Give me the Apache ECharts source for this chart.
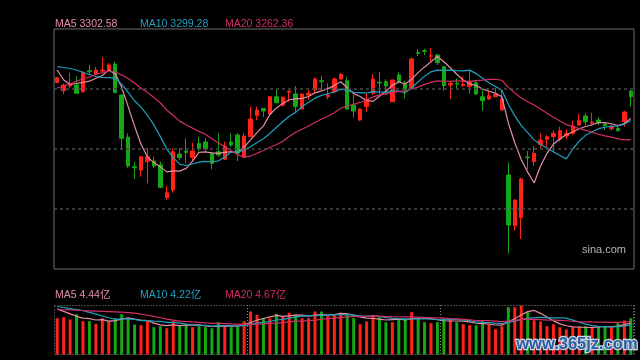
<!DOCTYPE html>
<html><head><meta charset="utf-8">
<script src="https://cdn.jsdelivr.net/npm/echarts@6/dist/echarts.min.js"></script>
<style>html,body{margin:0;padding:0;background:#000}#c{width:640px;height:360px}</style>
</head><body><div id="c"></div>
<script>
const categories = Array.from({length: 90}, (_, i) => String(i + 1));

const opens = [3372.6,3356.6,3366,3368,3354.6,3396.6,3389.4,3396,3399.4,3410,
3348,3263.4,3204.6,3198,3214.6,3216,3208,3142.6,3158,3230,
3236,3223.4,3251.4,3254,3231.4,3234.6,3219.4,3254,3268,3223.4,
3264.6,3306.6,3321.4,3310,3344.6,3328,3354,3350,3320,3348,
3358,3376.6,3344.6,3354.6,3380,3376.6,3328,3298,3324.6,3351.4,
3373.4,3374.6,3334.6,3388,3371.4,3361.4,3432.6,3436.6,3425.4,3428,
3404.6,3368,3371.4,3366.6,3364.6,3372.6,3344.6,3340,3344.6,3318,
3188,3086.6,3102.6,3224,3214.6,3249.4,3259.4,3264.6,3259.4,3266,
3271.4,3288,3306,3292,3298,3290,3280.6,3281.4,3294.6,3356];

const closes = [3382.6,3368,3371.4,3351.4,3392.6,3394.6,3398,3398,3408,3352.6,
3261.4,3206,3202.6,3224.6,3224.6,3206,3163.4,3152.6,3234.6,3222.6,
3233.4,3236,3240,3240,3211.4,3228,3246,3248,3231.4,3266,
3300,3318,3316,3344.6,3332.6,3343.4,3356,3324.6,3350,3351.4,
3380,3374.6,3348,3380,3389.4,3320,3316,3320,3340,3380,
3372,3366,3378,3374.6,3359.4,3420,3431.4,3435.4,3426.6,3412.6,
3366.6,3371.4,3370,3369.4,3374.6,3350,3336.6,3346.6,3349.4,3340,
3088,3138,3180,3222.6,3231.4,3258,3264.6,3271.4,3276.6,3271.4,
3286,3296.6,3294.6,3294,3292.6,3286.6,3284.6,3276.6,3314,3344.6];

const lows = [3372,3350,3362,3350,3353,3388,3388,3391.4,3398,3352,
3238,3201.4,3180,3184.6,3171.4,3201.4,3162,3138,3152.6,3218,
3211.4,3214.6,3236,3234.6,3199.4,3224.6,3218,3244.6,3216,3222,
3264,3298,3304,3308,3332,3324.6,3334.6,3314.6,3319,3338,
3351.4,3358,3339.4,3351.4,3379,3319,3302.6,3296,3314.6,3348,
3348,3348,3334,3371.4,3341.4,3360,3426,3428,3414.6,3408,
3356.6,3340,3361.4,3364.6,3351.4,3348,3316.6,3338,3343.4,3317,
3031.4,3076.6,3060,3199.4,3206,3241.4,3244.6,3231.4,3254.6,3259.4,
3268,3286,3288,3286,3288,3278,3276.6,3274.6,3284.6,3324.6];

const highs = [3384,3371,3392.6,3386,3396,3408,3404,3423.4,3412,3414.6,
3350,3271.4,3214.6,3226,3241.4,3224.6,3214.6,3166,3241.4,3241.4,
3261.4,3252.6,3264.6,3261.4,3234,3271.4,3254.6,3271.4,3272,3271.4,
3324.6,3324.6,3322,3346,3359.4,3345,3356.6,3366,3351,3358,
3383.4,3386.6,3371.4,3383.4,3392,3383.4,3348,3321,3351.4,3389.4,
3393.4,3379.4,3379,3393.4,3376.6,3423.4,3439.4,3440,3442.6,3430,
3406,3374.6,3381.4,3384.6,3396,3376.6,3359.4,3356.6,3361.4,3358,
3212.6,3139,3182.6,3236,3246,3271.4,3268,3278,3284.6,3279.4,
3296.6,3310,3311.4,3312.6,3303.4,3292.6,3289.4,3284.6,3316,3357];

// volume in 亿
const volumes = [5.13,5.27,4.95,5.70,4.71,4.71,4.34,5.13,4.71,5.13,
5.70,5.19,4.24,4.14,4.71,3.86,4.00,3.72,4.71,4.10,
4.34,3.86,4.00,3.86,3.72,4.57,4.00,3.86,4.00,4.71,
6.08,5.61,5.05,5.13,5.75,5.42,5.90,5.61,5.13,5.13,
6.08,6.08,5.42,5.61,5.90,5.75,5.13,4.28,4.67,5.61,
5.27,4.57,4.57,4.95,5.13,5.98,5.13,4.57,4.43,4.57,
5.13,4.99,4.57,4.28,4.14,4.14,4.71,4.28,3.58,4.00,
6.69,6.69,6.93,5.98,4.85,4.67,4.00,4.28,3.86,3.54,
3.86,3.86,4.00,3.86,4.00,4.00,3.86,4.43,4.81,5.13];

// moving-average values before a full window is available
const ma5Head = [3398, 3378, 3369, 3371];
const ma10Head = [3404.6, 3403, 3401, 3398, 3393, 3389, 3385, 3383.4, 3382.6];
const ma20Head = [3362, 3366, 3370, 3376, 3380, 3384, 3389, 3393, 3396, 3394, 3388, 3381, 3372, 3362, 3353, 3343, 3332, 3318, 3307];
const vma5Head = [6.46, 6.1, 5.75, 5.4];
const vma10Head = [6.79, 6.65, 6.5, 6.35, 6.2, 5.95, 5.7, 5.45, 5.2];
const vma20Head = [6.36, 6.33, 6.3, 6.26, 6.22, 6.18, 6.14, 6.1, 6.06, 6.02, 5.98, 5.93, 5.85, 5.7, 5.55, 5.4, 5.2, 5.0, 4.85];

const gridLevels = [3120, 3240, 3360];
const monthBreaks = [30, 60];
const priceLegend = ['MA5 3302.58', 'MA10 3299.28', 'MA20 3262.36'];
const volumeLegend = ['MA5 4.44亿', 'MA10 4.22亿', 'MA20 4.67亿'];

function movingAverage(values, n, head) {
  return values.map((v, i) => {
    if (i < n - 1) return head[i];
    let s = 0;
    for (let k = i - n + 1; k <= i; k++) s += values[k];
    return +(s / n).toFixed(2);
  });
}

const RED = '#ff2218', GREEN = '#14a814';
const C5 = '#e58ca5', C10 = '#1fa0c0', C20 = '#cf2f64';
const FONT = '"Liberation Sans", Arial, "Noto Sans CJK SC", sans-serif';

const candleData = opens.map((o, i) => [o, closes[i], lows[i], highs[i]]);
const volData = volumes.map((v, i) => ({value: v, itemStyle: {color: closes[i] >= opens[i] ? RED : GREEN}}));

const chart = echarts.init(document.getElementById('c'), null, {renderer: 'canvas'});
const hideAxis = {axisLine: {show: false}, axisTick: {show: false}, axisLabel: {show: false}};
const lineSeries = (name, data, color, xi) => ({
  name, type: 'line', data, xAxisIndex: xi, yAxisIndex: xi, symbol: 'none', showSymbol: false,
  lineStyle: {color, width: 1.2}, itemStyle: {color}, z: 4, silent: true
});
const legendColors = [C5, C10, C20];
const legendX = [55, 140, 225];
const graphics = [];
priceLegend.forEach((t, k) => graphics.push({type: 'text', left: legendX[k], top: 19, style: {text: t, fill: legendColors[k], font: '10.5px ' + FONT}}));
volumeLegend.forEach((t, k) => graphics.push({type: 'text', left: legendX[k], top: 289.5, style: {text: t, fill: legendColors[k], font: '10.5px ' + FONT}}));
graphics.push({type: 'rect', shape: {x: 54.5, y: 305.5, width: 579, height: 49}, style: {fill: null, stroke: '#8a8a8a', lineWidth: 1, lineDash: [1, 2]}, z: 10});
graphics.push({type: 'text', left: 582, top: 244, style: {text: 'sina.com', fill: '#b4b4b4', font: '11px ' + FONT}, z: 10});
graphics.push({type: 'text', left: 515, top: 335, style: {text: 'www.365jz.com', fill: '#2c5d9e', stroke: '#c9d5e6', lineWidth: 2.5, font: 'bold 16.5px ' + FONT}, z: 20});

chart.setOption({
  backgroundColor: '#000',
  animation: false,
  grid: [
    {left: 54, top: 29, width: 580, height: 240, show: true, borderColor: '#6e6e6e', borderWidth: 1, backgroundColor: 'transparent'},
    {left: 54, top: 305, width: 580, height: 49.5, show: false}
  ],
  xAxis: [
    Object.assign({type: 'category', gridIndex: 0, data: categories, boundaryGap: true, splitLine: {show: false}}, hideAxis),
    Object.assign({type: 'category', gridIndex: 1, data: categories, boundaryGap: true,
      splitLine: {show: true, interval: (i) => monthBreaks.indexOf(i) >= 0, lineStyle: {color: '#8a8a8a', type: [1, 2], width: 1}}}, hideAxis)
  ],
  yAxis: [
    Object.assign({type: 'value', gridIndex: 0, min: 3000, max: 3480, interval: 120, splitLine: {show: false}}, hideAxis),
    Object.assign({type: 'value', gridIndex: 1, min: 0, max: 7, splitLine: {show: false}}, hideAxis)
  ],
  series: [
    {
      type: 'candlestick', data: candleData, xAxisIndex: 0, yAxisIndex: 0, barWidth: 4, z: 3,
      itemStyle: {color: RED, color0: GREEN, borderColor: RED, borderColor0: GREEN, borderWidth: 1},
      markLine: {silent: true, symbol: ['none', 'none'], label: {show: false},
        lineStyle: {color: '#4a4a4a', type: [3, 3], width: 1.5}, emphasis: {disabled: true},
        data: gridLevels.map(v => ({yAxis: v}))}
    },
    lineSeries('MA5', movingAverage(closes, 5, ma5Head), C5, 0),
    lineSeries('MA10', movingAverage(closes, 10, ma10Head), C10, 0),
    lineSeries('MA20', movingAverage(closes, 20, ma20Head), C20, 0),
    {type: 'bar', data: volData, xAxisIndex: 1, yAxisIndex: 1, barWidth: 3, z: 3, silent: true},
    lineSeries('VMA5', movingAverage(volumes, 5, vma5Head), C5, 1),
    lineSeries('VMA10', movingAverage(volumes, 10, vma10Head), C10, 1),
    lineSeries('VMA20', movingAverage(volumes, 20, vma20Head), C20, 1)
  ],
  graphic: graphics
});
</script>
</body></html>
